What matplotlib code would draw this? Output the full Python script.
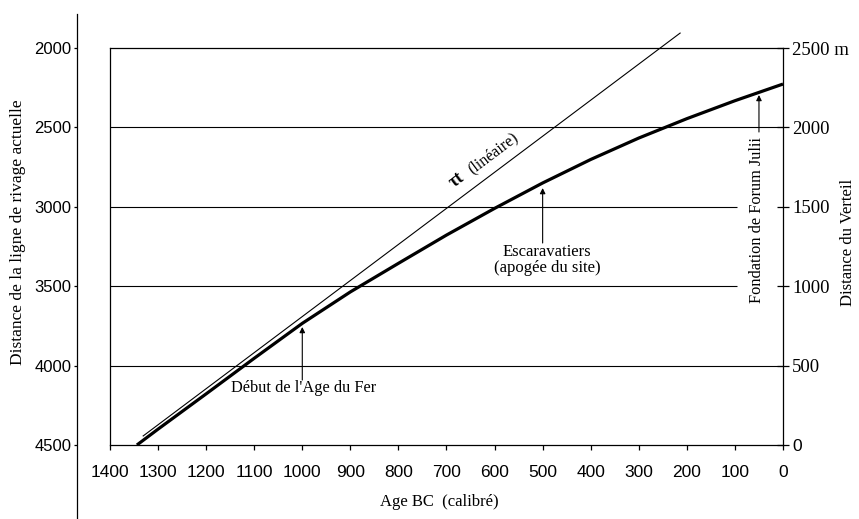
import matplotlib
matplotlib.use('Agg')
import matplotlib.pyplot as plt

SERIF = 'Liberation Serif'
SANS = 'Liberation Sans'

# courbe de recul du rivage
years_curve = [1344, 1300, 1200, 1100, 1000, 900, 800, 700, 600, 500, 400, 300, 200, 100, 0]
dist_curve = [4500, 4400, 4178, 3954, 3734, 3536, 3356, 3178, 3010, 2850, 2702, 2567, 2445, 2332, 2227]

# droite "tau t (lineaire)"
years_lin = [1331, 214]
dist_lin = [4443, 1906]

x_ticks = list(range(1400, -1, -100))
left_ticks = [2000, 2500, 3000, 3500, 4000, 4500]
right_ticks = [0, 500, 1000, 1500, 2000, 2500]
right_labels = ['0', '500', '1000', '1500', '2000', '2500 m']

grid_levels = [2500, 3000, 3500, 4000]
grid_end = [0, 95, 95, 0]

events = ["Début de l'Age du Fer", "Escaravatiers\n(apogée du site)", "Fondation de Forum Julii"]
event_years = [1000, 500, 50]

W, H = 859, 519
fig = plt.figure(figsize=(W / 100, H / 100), dpi=100)
ax = fig.add_axes([110 / W, 74 / H, 673 / W, 397 / H])
ax.set_xlim(1400, 0)
ax.set_ylim(4500, 2000)

for s in ['top', 'bottom', 'right']:
    ax.spines[s].set_linewidth(0.9)
ax.spines['right'].set_visible(False)
ax.spines['left'].set_position(('outward', 23.8))
ax.spines['left'].set_bounds(1786, 4966)
ax.spines['left'].set_linewidth(0.9)

# bord gauche du cadre
ax.axvline(1400, color='k', lw=0.9, clip_on=False)

ax.set_xticks(x_ticks)
ax.set_xticklabels([str(v) for v in x_ticks], fontsize=12.5, family=SANS)
ax.tick_params(axis='x', direction='out', length=3.6, width=0.9, pad=11)
ax.set_yticks(left_ticks)
ax.set_yticklabels([str(v) for v in left_ticks], fontsize=12, family=SANS)
ax.tick_params(axis='y', direction='out', length=2.5, width=0.9, pad=1.5)

for lev, xe in zip(grid_levels, grid_end):
    ax.hlines(lev, 1400, xe, color='k', lw=0.8)

ax2 = ax.twinx()
ax2.set_ylim(0, 2500)
for s in ['top', 'bottom', 'left']:
    ax2.spines[s].set_visible(False)
ax2.spines['right'].set_linewidth(0.9)
ax2.set_yticks(right_ticks)
ax2.set_yticklabels(right_labels, fontsize=13.5, family=SERIF)
ax2.get_yticklabels()[0].set_family(SANS)
ax2.get_yticklabels()[0].set_fontsize(12.5)
ax2.tick_params(axis='y', direction='inout', length=9, width=0.9, pad=2)

ax.plot(years_curve, dist_curve, color='k', lw=2.3, solid_capstyle='butt',
        solid_joinstyle='round')
ax.plot(years_lin, dist_lin, color='k', lw=0.8, clip_on=False)

arrow = dict(arrowstyle='-|>', color='k', lw=0.8, mutation_scale=8, shrinkA=0, shrinkB=0)
ax.annotate('', xy=(event_years[0], 3757), xytext=(event_years[0], 4091), arrowprops=arrow)
ax.text(998, 4140, events[0], family=SERIF, fontsize=11.8, ha='center', va='center')
ax.annotate('', xy=(event_years[1], 2882), xytext=(event_years[1], 3228), arrowprops=arrow)
ax.text(491, 3335, events[1], family=SERIF, fontsize=12, ha='center', va='center',
        linespacing=1.05)
ax.annotate('', xy=(event_years[2], 2296), xytext=(event_years[2], 2529), arrowprops=arrow)
ax.text(54, 3083, events[2], family=SERIF, fontsize=11.8, ha='center', va='center',
        rotation=90)

ax.text(678, 2830, 'τt', family=SERIF, fontsize=13, fontweight='bold',
        ha='center', va='center', rotation=37, rotation_mode='anchor')
ax.text(603, 2665, '(linéaire)', family=SERIF, fontsize=11.5,
        ha='center', va='center', rotation=37, rotation_mode='anchor')

fig.text(18 / W, 1 - 232 / H, 'Distance de la ligne de rivage actuelle', family=SERIF,
         fontsize=12.5, rotation=90, ha='center', va='center')
fig.text(848 / W, 1 - 242 / H, 'Distance du Verteil', family=SERIF,
         fontsize=12, rotation=90, ha='center', va='center')
fig.text(439 / W, 1 - 502 / H, 'Age BC  (calibré)', family=SERIF,
         fontsize=12, ha='center', va='center')

fig.savefig('out.png', dpi=100)
